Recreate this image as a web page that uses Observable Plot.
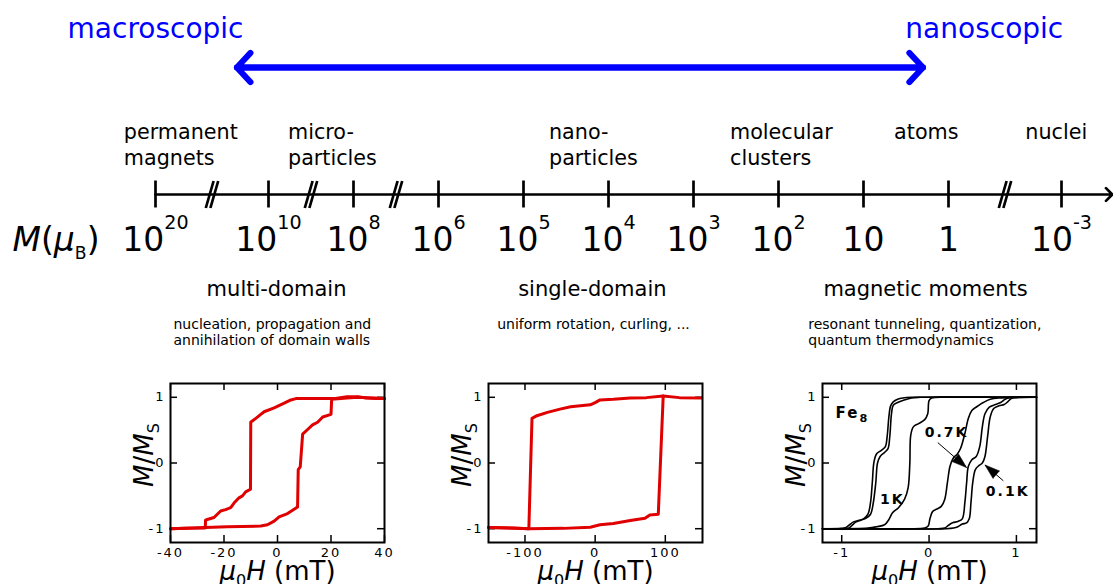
<!DOCTYPE html>
<html>
<head>
<meta charset="utf-8">
<script src="https://cdn.jsdelivr.net/npm/d3@7/dist/d3.min.js"></script>
<script src="https://cdn.jsdelivr.net/npm/@observablehq/plot@0.6/dist/plot.umd.min.js"></script>
<style>
  html, body { margin: 0; padding: 0; background: #fff; }
  #figure { position: relative; width: 1113px; height: 584px; overflow: hidden; font-family: "DejaVu Sans", sans-serif; }
  #figure svg { position: absolute; overflow: visible; background: transparent; }
  .panel text { letter-spacing: 2px; }
</style>
</head>
<body>
<div id="figure"></div>
<script>
// ---------- magnetic-moment scale: exponents n of 10^n μB ----------
const tickExponents = [20, 10, 8, 6, 5, 4, 3, 2, 1, 0, -3];
const breakExponents = [15, 9, 7, -1.5];
const axisExtent = [20, -4.35];

const scopeLabels = ["macroscopic", "nanoscopic"];
const scopeExponents = [20, -0.95];
const scopeArrow = [12.8, 0.3];

const categoryLabels = ["permanent\nmagnets", "micro-\nparticles", "nano-\nparticles", "molecular\nclusters", "atoms", "nuclei"];
const categoryExponents = [22.8, 9.54, 4.7, 2.57, 0.64, -2.04];

const regimeLabels = ["multi-domain", "single-domain", "magnetic moments"];
const regimeExponents = [9.81, 4.19, 0.27];
const regimeNotes = [
  "nucleation, propagation and\nannihilation of domain walls",
  "uniform rotation, curling, ...",
  "resonant tunneling, quantization,\nquantum thermodynamics"
];
const noteExponents = [18.41, 5.31, 1.65];

const axisTitle = "*M*(*μ*_{B})";

// ---------- hysteresis loops: [μ0H, M/MS] ----------
// multi-domain particle (mT)
const multiDomainDown = [
  [40, 0.98], [37, 0.98], [33, 0.99], [30, 1.01], [26, 1.01], [21, 0.98], [12, 0.98], [6.9, 0.98],
  [5, 0.96], [2.5, 0.91], [-1.25, 0.84], [-5, 0.78], [-6.25, 0.74], [-8.1, 0.68], [-9.4, 0.64],
  [-10, 0.62], [-10.1, -0.4], [-11.9, -0.44], [-13.1, -0.5], [-14.4, -0.53], [-16.25, -0.61],
  [-17.5, -0.68], [-19.4, -0.71], [-21.25, -0.73], [-22.5, -0.78], [-23.75, -0.83], [-26.25, -0.86],
  [-26.9, -0.87], [-27, -0.99], [-32, -0.99], [-40, -1.0]
];
const multiDomainUp = [
  [-40, -1.0], [-31, -0.99], [-26.9, -0.98], [-18.75, -0.97], [-6.25, -0.96], [-3.75, -0.94],
  [-1.25, -0.885], [0.6, -0.82], [3.75, -0.77], [7.5, -0.67], [7.75, -0.1], [8.5, -0.06],
  [9.4, 0.44], [11.25, 0.51], [13.1, 0.58], [15, 0.62], [16.9, 0.7], [20, 0.74], [20.25, 0.97],
  [26, 0.99], [30, 1.0], [40, 0.98]
];
// single-domain particle (mT)
const singleDomainDown = [
  [152, 0.99], [120, 0.995], [97, 1.02], [73, 0.995], [50, 0.99], [26, 0.97], [7, 0.96], [0, 0.92],
  [-7, 0.885], [-21, 0.87], [-35, 0.855], [-50, 0.82], [-68, 0.77], [-83, 0.72], [-90, 0.68],
  [-94.5, -1.0], [-116, -0.99], [-152, -0.98]
];
const singleDomainUp = [
  [-152, -0.98], [-95, -1.0], [-45, -0.995], [-7, -0.977], [7, -0.94], [26, -0.92], [50, -0.875],
  [71, -0.84], [78, -0.79], [90, -0.78], [97, 1.02]
];
// Fe8 molecular clusters at 1 K, 0.7 K and 0.1 K
const fe8Up1K = [
  [-1.22, -1], [-0.3, -1], [-0.05, -0.99], [-0.01, -0.96], [0.01, -0.85], [0.04, -0.74], [0.09, -0.7],
  [0.14, -0.66], [0.18, -0.55], [0.21, -0.3], [0.24, -0.05], [0.28, 0.08], [0.32, 0.13], [0.36, 0.22],
  [0.41, 0.45], [0.45, 0.68], [0.49, 0.8], [0.55, 0.86], [0.62, 0.92], [0.7, 0.97], [0.8, 0.99], [1.23, 1]
];
const fe8Down1K = [
  [1.23, 1], [0.3, 1], [0.03, 0.99], [0.0, 0.95], [-0.015, 0.75], [-0.05, 0.66], [-0.12, 0.6],
  [-0.18, 0.55], [-0.21, 0.42], [-0.22, 0.0], [-0.24, -0.38], [-0.28, -0.55], [-0.35, -0.68],
  [-0.42, -0.76], [-0.46, -0.86], [-0.51, -0.94], [-0.6, -0.97], [-0.7, -0.99], [-1.22, -1]
];
const fe8Up07K = [
  [-1.22, -1], [0.1, -1], [0.18, -0.99], [0.22, -0.95], [0.27, -0.91], [0.33, -0.89], [0.38, -0.85],
  [0.41, -0.6], [0.43, -0.3], [0.45, -0.05], [0.49, 0.05], [0.54, 0.1], [0.58, 0.25], [0.61, 0.55],
  [0.64, 0.75], [0.69, 0.85], [0.76, 0.89], [0.82, 0.92], [0.87, 0.97], [0.92, 0.995], [1.23, 1]
];
const fe8Down07K = [
  [1.23, 1], [-0.1, 1], [-0.2, 0.99], [-0.3, 0.95], [-0.36, 0.92], [-0.41, 0.88], [-0.43, 0.75],
  [-0.45, 0.4], [-0.47, 0.22], [-0.51, 0.16], [-0.56, 0.1], [-0.59, 0.0], [-0.61, -0.3],
  [-0.64, -0.62], [-0.67, -0.78], [-0.72, -0.84], [-0.78, -0.87], [-0.84, -0.9], [-0.89, -0.96],
  [-0.93, -0.995], [-1.22, -1]
];
const fe8Up01K = [
  [-1.22, -1], [0.2, -1], [0.28, -0.99], [0.33, -0.97], [0.38, -0.93], [0.43, -0.91], [0.46, -0.85],
  [0.48, -0.6], [0.5, -0.3], [0.53, -0.1], [0.57, -0.04], [0.61, 0.0], [0.64, 0.1], [0.67, 0.4],
  [0.7, 0.7], [0.74, 0.83], [0.8, 0.87], [0.86, 0.89], [0.9, 0.93], [0.94, 0.98], [1.0, 0.995], [1.23, 1]
];
const fe8Down01K = [
  [1.23, 1], [-0.2, 1], [-0.3, 0.99], [-0.36, 0.97], [-0.41, 0.93], [-0.44, 0.87], [-0.46, 0.7],
  [-0.48, 0.4], [-0.5, 0.25], [-0.55, 0.19], [-0.6, 0.14], [-0.63, 0.02], [-0.65, -0.3],
  [-0.67, -0.6], [-0.7, -0.78], [-0.75, -0.85], [-0.82, -0.88], [-0.87, -0.9], [-0.91, -0.94],
  [-0.95, -0.98], [-1.01, -0.995], [-1.22, -1]
];
const fe8Title = "Fe_{8}";
const fe8TitleX = -1.07, fe8TitleY = 0.76;
const fe8Labels = ["1K", "0.7K", "0.1K"];
const fe8LabelX = [-0.42, 0.2, 0.9];
const fe8LabelY = [-0.56, 0.46, -0.43];
const fe8ArrowFromX = [0.1, 0.85];
const fe8ArrowFromY = [0.31, -0.27];
const fe8ArrowToX = [0.43, 0.64];
const fe8ArrowToY = [-0.07, -0.03];

// ---------- helpers for rich text (italics, sub/superscripts) ----------
const SVGNS = "http://www.w3.org/2000/svg";
const FONT = "DejaVu Sans";
function plainText(markup) {
  return markup.replace(/\*/g, "").replace(/[_^]\{([^}]*)\}/g, "$1");
}
function parseRich(markup) {
  const segs = [];
  let italic = false, buf = "", i = 0;
  const flush = () => { if (buf) segs.push({t: buf, i: italic}); buf = ""; };
  while (i < markup.length) {
    const c = markup[i];
    if (c === "*") { flush(); italic = !italic; i++; }
    else if ((c === "_" || c === "^") && markup[i + 1] === "{") {
      flush();
      const j = markup.indexOf("}", i);
      segs.push({t: markup.slice(i + 2, j), i: false, sub: c === "_", sup: c === "^"});
      i = j + 1;
    } else { buf += c; i++; }
  }
  flush();
  return segs;
}
// replaces the plain text drawn by Plot with styled tspans
function applyRich(svg, markups, {size, scale = 0.62, raise = 0.6, drop = 0.25, spacing = null}) {
  const byPlain = new Map(markups.map(m => [plainText(m), m]));
  svg.querySelectorAll("text").forEach(el => {
    if (el.children.length) return;
    const markup = byPlain.get(el.textContent);
    if (markup === undefined) return;
    el.textContent = "";
    if (spacing !== null) el.style.letterSpacing = spacing;
    let shift = 0;
    for (const s of parseRich(markup)) {
      const ts = document.createElementNS(SVGNS, "tspan");
      ts.textContent = s.t;
      const target = s.sup ? -raise * size : s.sub ? drop * size : 0;
      if (target !== shift) ts.setAttribute("dy", target - shift);
      shift = target;
      if (s.sub || s.sup) ts.setAttribute("font-size", scale * size);
      if (s.i) ts.setAttribute("font-style", "italic");
      el.appendChild(ts);
    }
  });
}
const figure = document.getElementById("figure");
function place(svg, left, posTop) {
  svg.style.left = left + "px";
  svg.style.top = posTop + "px";
  figure.appendChild(svg);
}

// ---------- upper diagram: scale of magnetic moments ----------
const expDomain = [20, 10, 6, 0, -3];
const expRange = [155, 268, 438, 948, 1061];
const xPos = d3.scaleLinear().domain(expDomain).range(expRange);
const ROW = {scope: 37, arrow: 67, category: 120.5, axis: 194, tickTop: 180.5, tickBottom: 207.5, tickLabel: 250, regime: 295, note: 316};

const tickMarkup = tickExponents.map(e => e === 0 ? "1" : e === 1 ? "10" : `10^{${e}}`);
const breakStrokes = breakExponents.flatMap(b => [-1, 1].map(k => {
  const c = xPos(b) + k * 2.3;
  return {x1: xPos.invert(c - 3.9), x2: xPos.invert(c + 3.9)};
}));

const scaleSvg = Plot.plot({
  width: 1113, height: 370,
  marginTop: 0, marginRight: 0, marginBottom: 0, marginLeft: 12,
  x: {type: "linear", domain: expDomain, range: expRange, axis: null},
  y: {type: "linear", domain: [0, 370], range: [0, 370], axis: null},
  style: {fontFamily: FONT, color: "black", background: "transparent", overflow: "visible"},
  marks: [
    Plot.text(scopeLabels, {x: (d, i) => scopeExponents[i], y: ROW.scope, text: d => d, fill: "#0000ff", fontSize: 28, lineAnchor: "bottom"}),
    Plot.arrow([{from: scopeArrow[0], to: scopeArrow[1]}, {from: scopeArrow[1], to: scopeArrow[0]}], {
      x1: "from", x2: "to", y1: ROW.arrow, y2: ROW.arrow, stroke: "#0000ff", strokeWidth: 6, headAngle: 94, headLength: 5
    }),
    Plot.text(categoryLabels, {x: (d, i) => categoryExponents[i], y: ROW.category, text: d => d, textAnchor: "start", lineAnchor: "top", lineHeight: 1.256, fontSize: 20.7}),
    Plot.arrow([axisExtent], {x1: d => d[0], x2: d => d[1], y1: ROW.axis, y2: ROW.axis, stroke: "black", strokeWidth: 2.7, headAngle: 90, headLength: 5}),
    Plot.ruleX(tickExponents, {x: d => d, y1: ROW.tickTop, y2: ROW.tickBottom, stroke: "black", strokeWidth: 2.7}),
    Plot.link(breakStrokes, {x1: "x1", x2: "x2", y1: ROW.tickBottom, y2: ROW.tickTop, stroke: "black", strokeWidth: 2.7}),
    Plot.text(tickMarkup, {x: (d, i) => tickExponents[i], y: ROW.tickLabel, text: plainText, fontSize: 33, lineAnchor: "bottom"}),
    Plot.text([axisTitle], {frameAnchor: "left", y: ROW.tickLabel, text: plainText, textAnchor: "start", fontSize: 33, lineAnchor: "bottom"}),
    Plot.text(regimeLabels, {x: (d, i) => regimeExponents[i], y: ROW.regime, text: d => d, fontSize: 21, lineAnchor: "bottom"}),
    Plot.text(regimeNotes, {x: (d, i) => noteExponents[i], y: ROW.note, text: d => d, textAnchor: "start", lineAnchor: "top", lineHeight: 1.21, fontSize: 14})
  ]
});
applyRich(scaleSvg, tickMarkup, {size: 33, scale: 0.58, raise: 0.64});
applyRich(scaleSvg, [axisTitle], {size: 33, scale: 0.52, drop: 0.27});
place(scaleSvg, 0, 0);

// ---------- hysteresis panels ----------
const FW = 214, FH = 159, TICK = 7;
const yLabel = "*M*/*M*_{S}";
const xLabel = "*μ*_{0}*H* (mT)";
function panel({xDomain, xTicks, branches, stroke, strokeWidth, curve = "linear", extras = []}) {
  const svg = Plot.plot({
    width: 282, height: 209, marginLeft: 50, marginRight: 18, marginTop: 8, marginBottom: 42,
    x: {domain: xDomain, ticks: xTicks, tickSize: 0, tickPadding: 5, tickFormat: d => String(d), label: null},
    y: {domain: [-1.21, 1.21], ticks: [-1, 0, 1], tickSize: 0, tickPadding: 5, tickFormat: d => String(d), label: null},
    style: {fontFamily: FONT, fontSize: "13px", color: "black", background: "transparent", overflow: "visible"},
    marks: [
      Plot.ruleX(xTicks, {x: d => d, insetTop: FH - TICK, strokeWidth: 1.5}),
      Plot.ruleX(xTicks, {x: d => d, insetBottom: FH - TICK, strokeWidth: 1.5}),
      Plot.ruleY([-1, 0, 1], {y: d => d, insetRight: FW - TICK, strokeWidth: 1.5}),
      Plot.ruleY([-1, 0, 1], {y: d => d, insetLeft: FW - TICK, strokeWidth: 1.5}),
      ...branches.map(b => Plot.line(b, {x: d => d[0], y: d => d[1], stroke, strokeWidth, curve, strokeLinejoin: "round"})),
      ...extras,
      Plot.frame({strokeWidth: 2}),
      Plot.text([yLabel], {frameAnchor: "left", rotate: -90, dx: -18, dy: -8, text: plainText, textAnchor: "middle", lineAnchor: "bottom", fontSize: 26}),
      Plot.text([xLabel], {frameAnchor: "bottom", dy: 37, text: plainText, textAnchor: "middle", lineAnchor: "bottom", fontSize: 26})
    ]
  });
  svg.classList.add("panel");
  applyRich(svg, [yLabel, xLabel], {size: 26, scale: 0.62, drop: 0.25, spacing: "0px"});
  return svg;
}

const red = "#e00000";
place(panel({
  xDomain: [-40, 40], xTicks: [-40, -20, 0, 20, 40],
  branches: [multiDomainDown, multiDomainUp], stroke: red, strokeWidth: 3
}), 120, 375);

place(panel({
  xDomain: [-152, 153], xTicks: [-100, 0, 100],
  branches: [singleDomainDown, singleDomainUp], stroke: red, strokeWidth: 3
}), 438, 375);

// annotations of the Fe8 panel
const pxPerX = FW / 2.45, pxPerY = FH / 2.42;
const fe8Arrows = fe8ArrowFromX.map((x, i) => {
  const dx = (fe8ArrowToX[i] - x) * pxPerX, dy = -(fe8ArrowToY[i] - fe8ArrowFromY[i]) * pxPerY;
  return {x1: x, y1: fe8ArrowFromY[i], x2: fe8ArrowToX[i], y2: fe8ArrowToY[i], angle: Math.atan2(dx, -dy) * 180 / Math.PI};
});
const arrowHeads = typeof Plot.spike === "function"
  ? Plot.vector(fe8Arrows, {x: "x2", y: "y2", rotate: "angle", length: 15, r: 5, shape: "spike", anchor: "end", fill: "black", stroke: "black", strokeWidth: 0.5})
  : Plot.dot(fe8Arrows, {x: "x2", y: "y2", rotate: "angle", symbol: "triangle", r: 5, fill: "black"});
const fe8Svg = panel({
  xDomain: [-1.22, 1.23], xTicks: [-1, 0, 1],
  branches: [fe8Down01K, fe8Up01K, fe8Down07K, fe8Up07K, fe8Down1K, fe8Up1K],
  stroke: "black", strokeWidth: 1.6, curve: "catmull-rom",
  extras: [
    Plot.link(fe8Arrows, {x1: "x1", y1: "y1", x2: "x2", y2: "y2", stroke: "black", strokeWidth: 1}),
    arrowHeads,
    Plot.text([fe8Title], {x: fe8TitleX, y: fe8TitleY, text: plainText, textAnchor: "start", fontWeight: "bold", fontSize: 15}),
    Plot.text(fe8Labels, {x: (d, i) => fe8LabelX[i], y: (d, i) => fe8LabelY[i], text: d => d, fontWeight: "bold", fontSize: 14})
  ]
});
applyRich(fe8Svg, [fe8Title], {size: 15, scale: 0.75, drop: 0.3});
place(fe8Svg, 772, 375);
</script>
</body>
</html>
